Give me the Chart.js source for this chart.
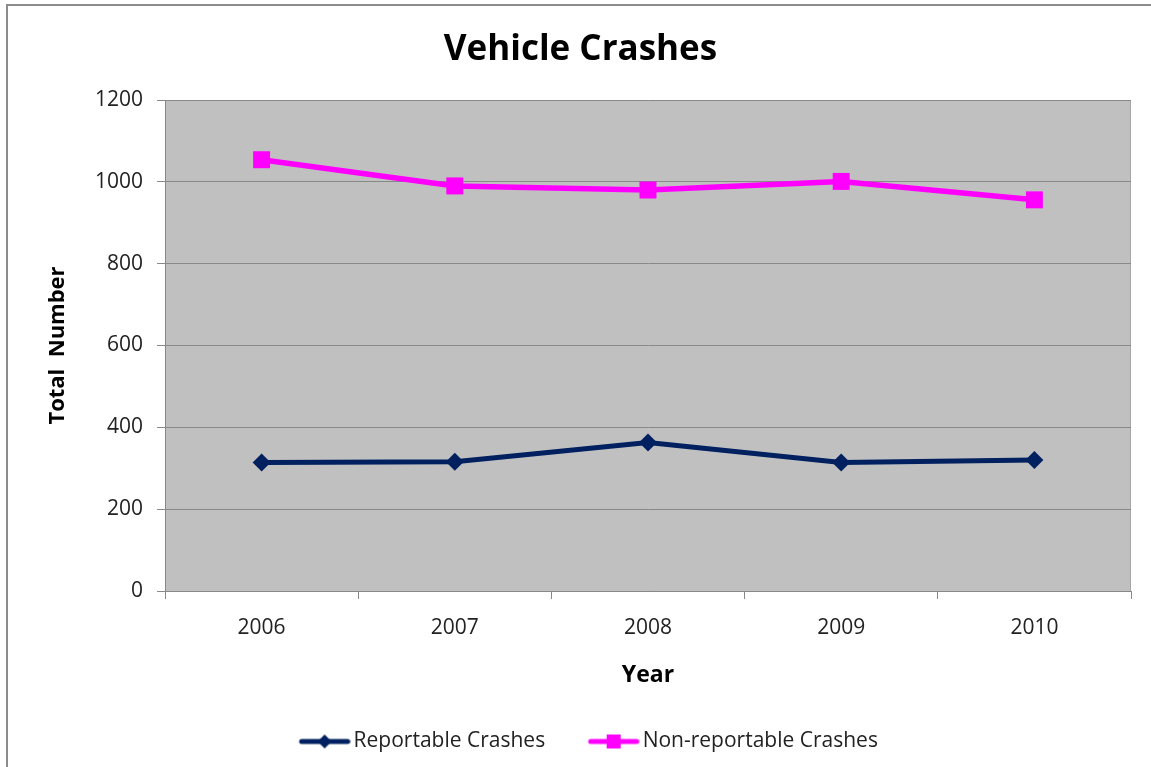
<!DOCTYPE html>
<html>
<head>
<meta charset="utf-8">
<script src="https://cdn.jsdelivr.net/npm/chart.js@4.4.0/dist/chart.umd.min.js"></script>
<style>
  html, body { margin: 0; padding: 0; background: #fff; }
  #wrap { width: 1151px; height: 767px; position: relative; }
</style>
</head>
<body>
<div id="wrap"><canvas id="myChart" width="1151" height="767"></canvas></div>
<script>
// data
const anos = ['2006', '2007', '2008', '2009', '2010']
const reportaveis = [314, 316, 363, 314, 320]
const naoReportaveis = [1054, 990, 980, 1001, 956]
const nomesSeries = ['Reportable Crashes', 'Non-reportable Crashes']

const azul = '#002060'
const rosa = '#ff00ff'
const fonte = '"Open Sans", "Liberation Sans", sans-serif'

// legend icons: line with the marker in the middle, transparent room on the left
function iconeLegenda(cor, tipo) {
    const c = document.createElement('canvas')
    c.width = 75
    c.height = 18
    const g = c.getContext('2d')
    g.strokeStyle = cor
    g.lineWidth = 5
    g.lineCap = 'round'
    g.beginPath()
    g.moveTo(26, 9)
    g.lineTo(72, 9)
    g.stroke()
    g.fillStyle = cor
    g.beginPath()
    if (tipo == 'diamante') {
        g.moveTo(49, 2); g.lineTo(56, 9); g.lineTo(49, 16); g.lineTo(42, 9)
    } else {
        g.rect(42, 2, 14, 14)
    }
    g.closePath()
    g.fill()
    return c
}

const icones = [iconeLegenda(azul, 'diamante'), iconeLegenda(rosa, 'quadrado')]

// grey plot background, right edge and outer frame
const fundo = {
    id: 'fundo',
    beforeDraw(chart) {
        const {ctx, chartArea: a} = chart
        ctx.save()
        ctx.fillStyle = '#c0c0c0'
        ctx.fillRect(a.left, a.top, a.right - a.left, a.bottom - a.top)
        ctx.strokeStyle = '#a6a6a6'
        ctx.lineWidth = 1
        ctx.beginPath()
        ctx.moveTo(a.right - 0.5, a.top)
        ctx.lineTo(a.right - 0.5, a.bottom)
        ctx.stroke()
        ctx.strokeStyle = '#8c8c8c'
        ctx.lineWidth = 2
        ctx.beginPath()
        ctx.moveTo(7, chart.height)
        ctx.lineTo(7, 5)
        ctx.lineTo(chart.width, 5)
        ctx.stroke()
        ctx.restore()
    }
}

const ctx = document.getElementById('myChart').getContext('2d')
const chart = new Chart(ctx, {
    type: 'line',
    data: {
        labels: anos,
        datasets: [{
            label: nomesSeries[0],
            data: reportaveis,
            borderColor: azul,
            backgroundColor: azul,
            borderWidth: 5,
            pointStyle: 'rectRot',
            pointRadius: 9,
            pointBorderWidth: 0,
            tension: 0
        }, {
            label: nomesSeries[1],
            data: naoReportaveis,
            borderColor: rosa,
            backgroundColor: rosa,
            borderWidth: 5.5,
            pointStyle: 'rect',
            pointRadius: 12,
            pointBorderWidth: 0,
            tension: 0
        }]
    },
    options: {
        responsive: false,
        animation: false,
        layout: { padding: { left: 30, right: 20, top: 0, bottom: 5 } },
        plugins: {
            title: {
                display: true,
                text: 'Vehicle Crashes',
                color: '#000',
                font: { family: fonte, size: 35, weight: 'bold' },
                padding: { top: 29, bottom: 29 }
            },
            legend: {
                position: 'bottom',
                labels: {
                    usePointStyle: true,
                    pointStyleWidth: 60,
                    padding: 27,
                    color: '#222',
                    font: { family: fonte, size: 21 },
                    generateLabels(chart) {
                        return chart.data.datasets.map((ds, i) => ({
                            text: ds.label,
                            pointStyle: icones[i],
                            fillStyle: ds.borderColor,
                            strokeStyle: ds.borderColor,
                            lineWidth: 0,
                            fontColor: '#222',
                            datasetIndex: i,
                            hidden: false
                        }))
                    }
                }
            },
            tooltip: { enabled: false }
        },
        scales: {
            x: {
                offset: true,
                afterFit(scale) { scale.height = 113 },
                grid: {
                    offset: true,
                    drawOnChartArea: false,
                    drawTicks: true,
                    tickLength: 8,
                    color: '#888'
                },
                border: { color: '#888' },
                ticks: {
                    color: '#222',
                    padding: 16,
                    font: { family: fonte, size: 21 }
                },
                title: {
                    display: true,
                    text: 'Year',
                    color: '#000',
                    font: { family: fonte, size: 23, weight: 'bold' },
                    padding: { top: 0, bottom: 15 }
                }
            },
            y: {
                min: 0,
                max: 1200,
                afterFit(scale) { scale.width = 135 },
                grid: {
                    color: '#888',
                    tickLength: 8
                },
                border: { color: '#888' },
                ticks: {
                    stepSize: 200,
                    color: '#222',
                    padding: 14,
                    font: { family: fonte, size: 21 },
                    callback: (v) => String(v)
                },
                title: {
                    display: true,
                    text: 'Total  Number',
                    color: '#000',
                    font: { family: fonte, size: 22, weight: 'bold' },
                    padding: { top: 15, bottom: 0 }
                }
            }
        }
    },
    plugins: [fundo]
})
</script>
</body>
</html>
